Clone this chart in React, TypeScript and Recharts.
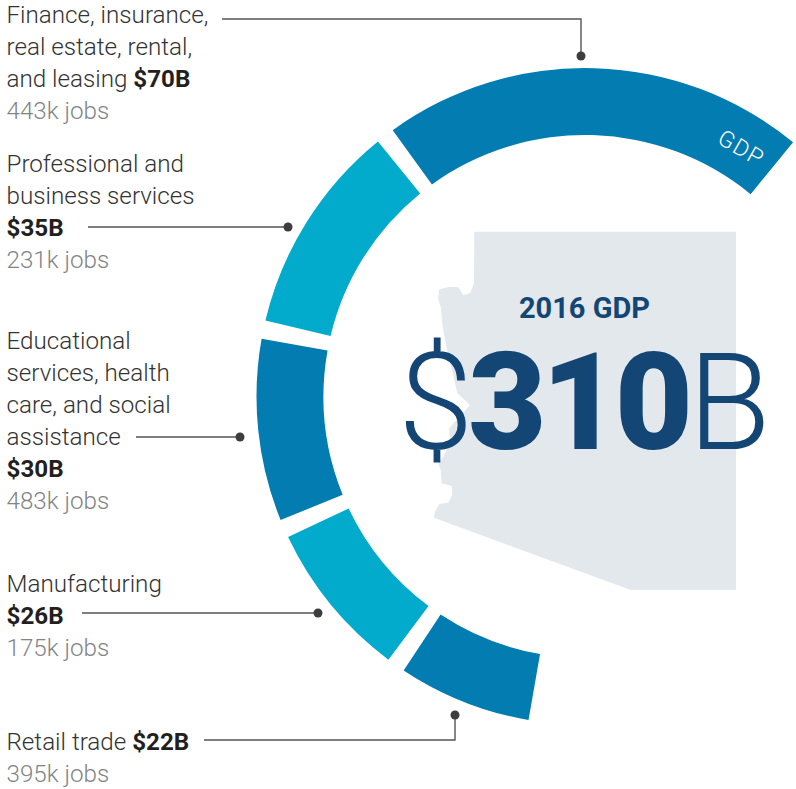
import React from "react";
import { PieChart, Pie, Cell } from "recharts";

const categories = [
  "Finance, insurance, real estate, rental, and leasing",
  "Professional and business services",
  "Educational services, health care, and social assistance",
  "Manufacturing",
  "Retail trade",
];
const gdpBillions = [70, 35, 30, 26, 22];
const jobsThousands = [443, 231, 483, 175, 395];
const totalBillions = 310;
const year = 2016;
const data = categories.map((name, i) => ({ name, gdp: gdpBillions[i], jobs: jobsThousands[i] }));

const DARK = "#027CB1";
const LIGHT = "#02AACC";
const sectorFills = [DARK, LIGHT, DARK, LIGHT, DARK];
const NAVY = "#134674";
const INK = "#231F20";
const GREY = "#828487";
const BODY = "#333333";
const W = 796;
const H = 789;
const FS = 24.2;
const LX = 6.5;

const arizona =
  "474.3,231.7 736,231.7 736,590 630.7,590 434,517.7 435,511.7 439.3,504 448.3,502.7 452.3,495 451.7,486 441.7,483.3 440.7,470 438.3,463.3 443.3,456.7 450,443 449.3,428 470,405 457.3,393.3 452,370 446,345 442.7,326.7 440.7,306.7 438,298.3 439.3,289.3 450,286.7 458.3,287.3 463.3,295 470,293.3 474,283.3";

const Light = ({ y, children }: { y: number; children: React.ReactNode }) => (
  <text x={LX} y={y} fontSize={FS} fontWeight={300} fill={BODY}>
    {children}
  </text>
);
const Val = ({ children }: { children: React.ReactNode }) => (
  <tspan fontWeight={700} fill={INK}>
    {children}
  </tspan>
);
const Jobs = ({ y, i }: { y: number; i: number }) => (
  <text x={LX} y={y} fontSize={FS} fontWeight={300} fill={GREY}>
    {jobsThousands[i]}k jobs
  </text>
);
const money = (i: number) => `$${gdpBillions[i]}B`;

const leaders = [
  "M222,19 H581 V56",
  "M88,227 H288",
  "M136,437 H240",
  "M82,613 H318",
  "M204,740 H455 V715",
];
const dots = [
  [581, 56],
  [288, 227],
  [240, 437],
  [318, 613],
  [455, 715],
];

export default function App() {
  return (
    <div style={{ position: "absolute", left: 0, top: 0, width: W, height: H, overflow: "hidden", fontFamily: "Roboto, sans-serif" }}>
      <svg width={W} height={H} style={{ position: "absolute", left: 0, top: 0 }}>
        <polygon points={arizona} fill="#E3E8ED" />
      </svg>
      <div style={{ position: "absolute", left: 0, top: 0 }}>
        <PieChart width={W} height={H} margin={{ top: 0, right: 0, bottom: 0, left: 0 }}>
          <Pie
            data={data}
            dataKey="gdp"
            nameKey="name"
            cx={585}
            cy={396.5}
            innerRadius={261.5}
            outerRadius={328.5}
            startAngle={50.7}
            endAngle={260.1}
            paddingAngle={3.25}
            stroke="none"
            isAnimationActive={false}
          >
            {data.map((d, i) => (
              <Cell key={d.name} fill={sectorFills[i]} stroke="none" />
            ))}
          </Pie>
        </PieChart>
      </div>
      <svg width={W} height={H} style={{ position: "absolute", left: 0, top: 0, fontFamily: "Roboto, sans-serif" }}>
        {leaders.map((d) => (
          <path key={d} d={d} fill="none" stroke="#555555" strokeWidth={1.4} />
        ))}
        {dots.map(([x, y]) => (
          <circle key={`${x}-${y}`} cx={x} cy={y} r={4.5} fill="#3D3D3D" />
        ))}

        <Light y={23}>Finance, insurance,</Light>
        <Light y={55}>real estate, rental,</Light>
        <Light y={87}>and leasing <Val>{money(0)}</Val></Light>
        <Jobs y={119} i={0} />

        <Light y={172}>Professional and</Light>
        <Light y={204}>business services</Light>
        <Light y={236}><Val>{money(1)}</Val></Light>
        <Jobs y={268} i={1} />

        <Light y={349}>Educational</Light>
        <Light y={381}>services, health</Light>
        <Light y={413}>care, and social</Light>
        <Light y={445}>assistance</Light>
        <Light y={477}><Val>{money(2)}</Val></Light>
        <Jobs y={509} i={2} />

        <Light y={592}>Manufacturing</Light>
        <Light y={624}><Val>{money(3)}</Val></Light>
        <Jobs y={656} i={3} />

        <Light y={750}>Retail trade <Val>{money(4)}</Val></Light>
        <Jobs y={782} i={4} />

        <text x={584.5} y={318} textAnchor="middle" fontSize={29} fontWeight={700} fill={NAVY}>
          {year} GDP
        </text>
        <text x={582} y={449} textAnchor="middle" fontSize={135} fontWeight={300} fill={NAVY} letterSpacing={-5}>
          ${""}
          <tspan fontWeight={900}>{totalBillions}</tspan>B
        </text>
        <text
          x={741.5}
          y={156}
          textAnchor="middle"
          fontSize={23}
          fontWeight={300}
          fill="#FFFFFF"
          letterSpacing={1.5}
          transform="rotate(30 741.5 148)"
        >
          GDP
        </text>
      </svg>
    </div>
  );
}
